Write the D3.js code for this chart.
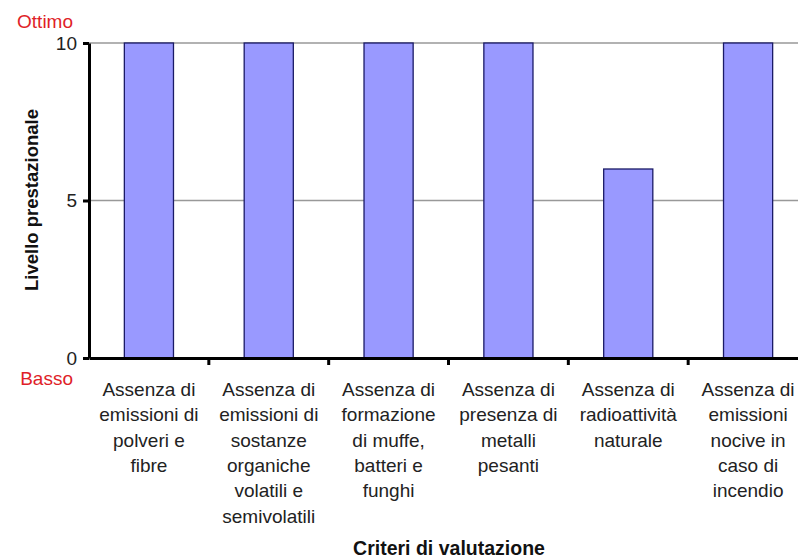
<!DOCTYPE html>
<html>
<head>
<meta charset="utf-8">
<script src="https://cdn.jsdelivr.net/npm/d3@7"></script>
<style>
  body { margin: 0; background: #fff; }
  svg { font-family: "Liberation Sans", Arial, sans-serif; display: block; }
</style>
</head>
<body>
<script>
const categories = [
  ['Assenza di', 'emissioni di', 'polveri e', 'fibre'],
  ['Assenza di', 'emissioni di', 'sostanze', 'organiche', 'volatili e', 'semivolatili'],
  ['Assenza di', 'formazione', 'di muffe,', 'batteri e', 'funghi'],
  ['Assenza di', 'presenza di', 'metalli', 'pesanti'],
  ['Assenza di', 'radioattività', 'naturale'],
  ['Assenza di', 'emissioni', 'nocive in', 'caso di', 'incendio']
];
const values = [10, 10, 10, 10, 6, 10];
const yTicks = [0, 5, 10];

const WIDTH = 798, HEIGHT = 559;
const PLOT = { left: 89, right: 808, top: 43, bottom: 358 };

const x = d3.scaleBand()
  .domain(d3.range(categories.length))
  .range([PLOT.left, PLOT.right])
  .paddingInner(0.59)
  .paddingOuter(0.295);
const xOuter = d3.scaleBand()
  .domain(d3.range(categories.length))
  .range([PLOT.left, PLOT.right]);
const y = d3.scaleLinear().domain([0, 10]).range([PLOT.bottom, PLOT.top]);

const svg = d3.select('body').append('svg')
  .attr('width', WIDTH)
  .attr('height', HEIGHT);

// gridlines
svg.append('g')
  .selectAll('line')
  .data(yTicks.filter(d => d > 0))
  .enter().append('line')
  .attr('x1', PLOT.left)
  .attr('x2', WIDTH)
  .attr('y1', d => y(d))
  .attr('y2', d => y(d))
  .attr('stroke', '#999')
  .attr('stroke-width', 1.3);

// bars
svg.append('g')
  .selectAll('rect')
  .data(values)
  .enter().append('rect')
  .attr('x', (d, i) => x(i))
  .attr('y', d => y(d))
  .attr('width', x.bandwidth())
  .attr('height', d => y(0) - y(d))
  .attr('fill', '#9999ff')
  .attr('stroke', '#1a1a66')
  .attr('stroke-width', 1.3);

// y axis
const yAxis = svg.append('g')
  .attr('transform', `translate(${PLOT.left},0)`)
  .call(d3.axisLeft(y).tickValues(yTicks).tickSize(6).tickSizeOuter(0).tickPadding(6));
yAxis.select('.domain').attr('stroke', '#000').attr('stroke-width', 3);
yAxis.selectAll('.tick line').attr('stroke', '#000').attr('stroke-width', 3);
yAxis.selectAll('.tick text')
  .attr('font-size', 19)
  .attr('fill', '#222')
  .attr('font-family', '"Liberation Sans", Arial, sans-serif');

// x axis
const xAxis = svg.append('g')
  .attr('transform', `translate(0,${PLOT.bottom})`)
  .call(d3.axisBottom(xOuter).tickValues([]).tickSizeOuter(0));
xAxis.select('.domain').attr('stroke', '#000').attr('stroke-width', 3);
xAxis.selectAll('.cat-tick')
  .data(d3.range(1, categories.length))
  .enter().append('line')
  .attr('class', 'cat-tick')
  .attr('x1', d => xOuter(d))
  .attr('x2', d => xOuter(d))
  .attr('y1', 0)
  .attr('y2', 7)
  .attr('stroke', '#000')
  .attr('stroke-width', 3);

// category labels
const labels = svg.append('g')
  .selectAll('text')
  .data(categories)
  .enter().append('text')
  .attr('text-anchor', 'middle')
  .attr('font-size', 19)
  .attr('fill', '#222')
  .attr('transform', (d, i) => `translate(${xOuter(i) + xOuter.bandwidth() / 2},396)`);
labels.selectAll('tspan')
  .data(d => d)
  .enter().append('tspan')
  .attr('x', 0)
  .attr('y', (d, i) => i * 25.3)
  .text(d => d);

// Ottimo / Basso
svg.append('text')
  .attr('x', 73).attr('y', 28)
  .attr('text-anchor', 'end')
  .attr('font-size', 19)
  .attr('fill', '#e01e28')
  .text('Ottimo');
svg.append('text')
  .attr('x', 73).attr('y', 385)
  .attr('text-anchor', 'end')
  .attr('font-size', 19)
  .attr('fill', '#e01e28')
  .text('Basso');

// axis titles
svg.append('text')
  .attr('transform', 'translate(38,200) rotate(-90)')
  .attr('text-anchor', 'middle')
  .attr('font-size', 18.5)
  .attr('font-weight', 'bold')
  .attr('fill', '#111')
  .text('Livello prestazionale');

svg.append('text')
  .attr('x', 449)
  .attr('y', 555)
  .attr('text-anchor', 'middle')
  .attr('font-size', 19.5)
  .attr('font-weight', 'bold')
  .attr('fill', '#111')
  .text('Criteri di valutazione');
</script>
</body>
</html>
